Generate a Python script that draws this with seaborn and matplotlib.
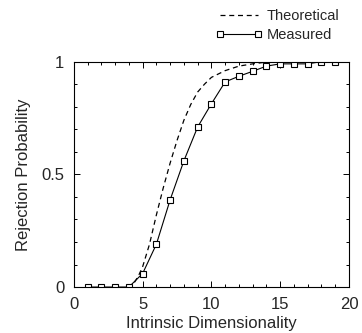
import matplotlib
matplotlib.use("Agg")
import matplotlib.pyplot as plt
import seaborn as sns
import pandas as pd
from matplotlib.ticker import MultipleLocator

# Data
measured_x = list(range(1, 20))
measured_y = [0, 0, 0, 0, 0.06, 0.19, 0.387, 0.56, 0.71, 0.813, 0.91, 0.935,
              0.957, 0.98, 0.99, 0.99, 0.99, 1.0, 1.0]

theory_x = [3.9, 4.3, 4.7, 5.0, 5.5, 6.0, 6.5, 7.0, 7.5, 8.0, 8.5, 9.0, 9.5,
            10, 11, 12, 13, 14, 15, 16, 18, 20]
theory_y = [0, 0.01, 0.05, 0.09, 0.19, 0.32, 0.44, 0.55, 0.65, 0.74, 0.81,
            0.865, 0.9, 0.93, 0.96, 0.98, 0.99, 0.998, 1.0, 1.0, 1.0, 1.0]

x_ticks = [0, 5, 10, 15, 20]
y_ticks = [0, 0.5, 1]
y_tick_labels = ["0", "0.5", "1"]

sns.set_style("ticks")
plt.rcParams['font.family'] = ['Liberation Sans', 'DejaVu Sans']

fig = plt.figure(figsize=(3.62, 3.33), dpi=100)
ax = fig.add_axes([0.204, 0.138, 0.76, 0.677])

th = pd.DataFrame({"x": theory_x, "y": theory_y})
me = pd.DataFrame({"x": measured_x, "y": measured_y})

sns.lineplot(data=th, x="x", y="y", ax=ax, color="black", linewidth=0.9,
             linestyle=(0, (4, 3)), label="Theoretical")
sns.lineplot(data=me, x="x", y="y", ax=ax, color="black", linewidth=0.8,
             marker="s", markersize=5, markerfacecolor="white",
             markeredgecolor="black", markeredgewidth=0.8, label="Measured")

ax.set_xlim(0, 20)
ax.set_ylim(0, 1)
ax.set_xticks(x_ticks)
ax.set_yticks(y_ticks)
ax.set_yticklabels(y_tick_labels)
ax.xaxis.set_minor_locator(MultipleLocator(1))
ax.yaxis.set_minor_locator(MultipleLocator(0.1))
ax.tick_params(which="both", direction="in", top=True, right=True,
               labelsize=12, width=0.7, color="black")
ax.tick_params(which="major", length=4, pad=7)
ax.tick_params(which="minor", length=2.5)
for s in ax.spines.values():
    s.set_linewidth(0.8)
    s.set_color("black")

ax.set_xlabel("Intrinsic Dimensionality", fontsize=12, labelpad=3)
ax.set_ylabel("Rejection Probability", fontsize=12, labelpad=7)

leg = ax.legend(loc="lower right", bbox_to_anchor=(0.985, 1.06), frameon=False,
                fontsize=10.5, handlelength=3.2, numpoints=2, borderaxespad=0,
                handletextpad=0.3, labelspacing=0.35)
for h in leg.legend_handles:
    h.set_markersize(4)

fig.savefig("out.png", dpi=100)
